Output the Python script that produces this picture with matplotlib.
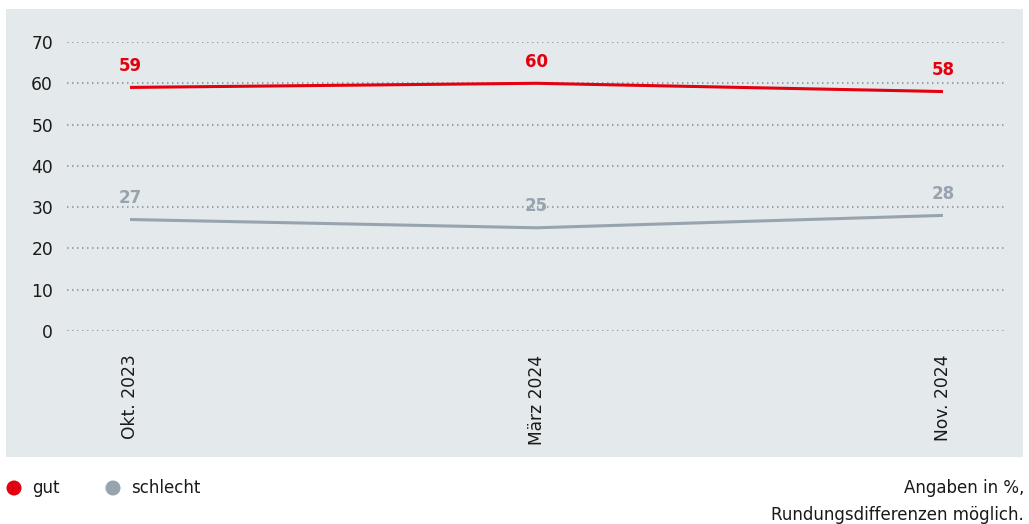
import matplotlib.pyplot as plt
from matplotlib.patches import Rectangle, Ellipse

plt.rcParams['font.family'] = ['DejaVu Sans']

# data
periods = ["Okt. 2023", "März 2024", "Nov. 2024"]
gut = [59, 60, 58]
schlecht = [27, 25, 28]
y_ticks = [0, 10, 20, 30, 40, 50, 60, 70]

RED = "#e3000f"
GRAY = "#97a4ae"
BG = "#e4e9ec"
TXT = "#1a1a1a"

W, H = 1029, 524
fig = plt.figure(figsize=(W / 100, H / 100), dpi=100)

# background panel
fig.patches.append(Rectangle((6 / W, 1 - 457 / H), (1023 - 6) / W, (457 - 9) / H,
                             transform=fig.transFigure, facecolor=BG, edgecolor="none", zorder=-5))

ax = fig.add_axes([67 / W, 1 - 331 / H, (1006 - 67) / W, (331 - 42) / H])
ax.set_facecolor("none")
x = list(range(len(periods)))
ax.set_xlim(-0.155, 2.155)
ax.set_ylim(0, 70)

# dotted grid
for yv in y_ticks:
    ax.axhline(yv, color="#98a3ab", lw=1.5, ls=(0, (0.7, 1.7)), zorder=1)

ax.plot(x, gut, color=RED, lw=2.2, zorder=3, solid_capstyle="butt")
ax.plot(x, schlecht, color=GRAY, lw=2.2, zorder=3, solid_capstyle="butt")

for xi, v in zip(x, gut):
    ax.annotate(str(v), (xi, v), xytext=(0, 15.5), textcoords="offset points",
                ha="center", va="center", color=RED, fontsize=12, fontweight="bold")
for xi, v in zip(x, schlecht):
    ax.annotate(str(v), (xi, v), xytext=(0, 15.5), textcoords="offset points",
                ha="center", va="center", color=GRAY, fontsize=12, fontweight="bold")

ax.set_yticks(y_ticks)
ax.set_yticklabels([str(t) for t in y_ticks], fontsize=12.3, color=TXT)
ax.set_xticks(x)
ax.set_xticklabels(periods, rotation=90, fontsize=12.3, color=TXT, va="top")
ax.tick_params(length=0)
ax.tick_params(axis="y", pad=10)
ax.tick_params(axis="x", pad=17)
for s in ax.spines.values():
    s.set_visible(False)

# legend
ly = 1 - 488 / H
for cx, tx, col, lab in [(14, 32, RED, "gut"), (113, 131, GRAY, "schlecht")]:
    fig.patches.append(Ellipse((cx / W, ly), 15 / W, 15 / H, transform=fig.transFigure,
                               facecolor=col, edgecolor="none"))
    fig.text(tx / W, ly, lab, fontsize=12, color=TXT, va="center", ha="left")

fig.text(1024 / W, 1 - 488 / H, "Angaben in %,", fontsize=12, color=TXT, ha="right", va="center")
fig.text(1024 / W, 1 - 515 / H, "Rundungsdifferenzen möglich.", fontsize=12, color=TXT,
         ha="right", va="center")

fig.savefig("out.png", dpi=100)
